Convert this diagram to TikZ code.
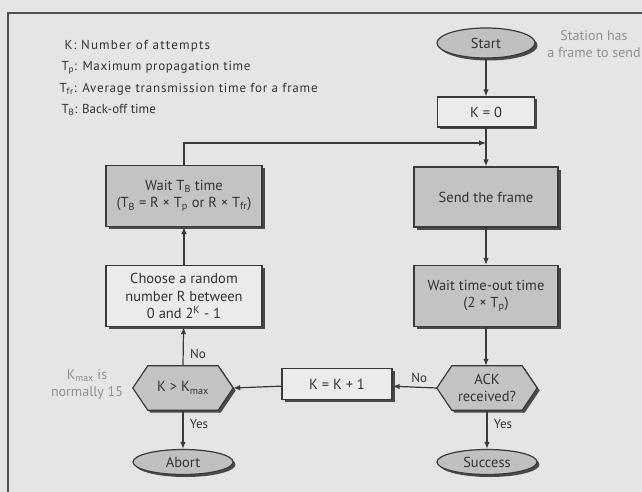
\documentclass[tikz,border=0pt]{standalone}
\usepackage{fontspec}
\setmainfont{PT Sans}
\usetikzlibrary{arrows.meta,shadows,calc,backgrounds,shapes.geometric}
\definecolor{bgc}{HTML}{E5E5E3}
\definecolor{linec}{HTML}{3A3A3A}
\definecolor{darkfill}{HTML}{C3C3C1}
\definecolor{lightfill}{HTML}{EBEBE9}
\definecolor{ovalfill}{HTML}{C0C0BE}
\definecolor{shadowc}{HTML}{4A4A4A}
\definecolor{txt}{HTML}{333333}
\definecolor{notec}{HTML}{909090}
\definecolor{framec}{HTML}{505050}

% outline of a hexagonal decision box around node #1, moved by #2
\newcommand\hexpath[2]{($(#1.west)+#2$) -- ($(#1.north west)+(15,0)+#2$) -- ($(#1.north east)+(-15,0)+#2$) -- ($(#1.east)+#2$) -- ($(#1.south east)+(-15,0)+#2$) -- ($(#1.south west)+(15,0)+#2$) -- cycle}

\begin{document}
\begin{tikzpicture}[x=1pt,y=-1pt,
  every node/.style={text=txt, font=\fontsize{14.5}{17.5}\selectfont},
  shade/.style={drop shadow={shadow xshift=2.5pt, shadow yshift=-2.5pt, fill=shadowc, opacity=1}},
  procbox/.style={draw=linec, line width=1.2pt, fill=lightfill, shade, align=center, inner sep=0pt},
  darkbox/.style={procbox, fill=darkfill},
  oval/.style={ellipse, draw=linec, line width=1.2pt, fill=ovalfill, shade, inner sep=0pt},
  hexbox/.style={rectangle, minimum width=100pt, minimum height=44pt, align=center, inner sep=0pt},
  flow/.style={draw=linec, line width=1.2pt, -{Latex[length=7pt,width=5.5pt]}},
  legend/.style={anchor=west, font=\fontsize{13}{15}\selectfont, text=txt},
  note/.style={align=center, text=notec, font=\fontsize{14}{17}\selectfont},
  lbl/.style={font=\fontsize{13}{15}\selectfont}]

\useasboundingbox (0,0) rectangle (642,492);
\begin{scope}[on background layer]
  \fill[bgc] (0,0) rectangle (642,492);
\end{scope}

% outer frame
\draw[framec, line width=1.6pt] (8,492) -- (8,13) -- (642,13);

% legend
\node[legend] (l1) at (61,46) {\addfontfeature{LetterSpace=9}K: Number of attempts};
\node[legend] (l2) at (58,68) {\addfontfeature{LetterSpace=5}T\textsubscript{p}: Maximum propagation time};
\node[legend] (l3) at (56,89) {\addfontfeature{LetterSpace=6}T\textsubscript{fr}: Average transmission time for a frame};
\node[legend] (l4) at (58,110) {T\textsubscript{B}: Back-off time};

% right column
\node[oval, minimum width=98pt, minimum height=30pt] (start) at (486,43) {Start};
\node[note] (station) at (594,44) {Station has\\a frame to send};
\node[procbox, minimum width=97pt, minimum height=30pt] (k0) at (486,112) {K = 0};
\coordinate (join) at (486,143);
\node[darkbox, minimum width=144pt, minimum height=60pt] (send) at (486,197) {Send the frame};
\node[darkbox, minimum width=144pt, minimum height=61pt] (tout) at (486,296) {Wait time-out time\\(2 × T\textsubscript{p})};
\node[hexbox] (ack) at (487,388) {};
\node[oval, minimum width=100pt, minimum height=25pt] (succ) at (487,462) {Success};

% middle
\node[procbox, minimum width=110pt, minimum height=31pt] (inc) at (337,384) {K = K + 1};

% left column
\node[darkbox, minimum width=156pt, minimum height=61pt] (waitb) at (184,196) {Wait T\textsubscript{B} time\\(T\textsubscript{B} = R × T\textsubscript{p} or R × T\textsubscript{fr})};
\node[procbox, minimum width=156pt, minimum height=61pt] (choose) at (184,296) {Choose a random\\number R between\\0 and 2\textsuperscript{K} - 1};
\node[hexbox] (kmax) at (183,388) {};
\node[oval, minimum width=100pt, minimum height=25pt] (abort) at (183,462) {Abort};
\node[note] (kmaxnote) at (87,384) {K\textsubscript{max} is\\normally 15};

% decision hexagons, drawn beneath their labels
\begin{scope}[on background layer]
  \foreach \h in {ack,kmax}{
    \fill[shadowc] \hexpath{\h}{(2.5,2.5)};
    \filldraw[fill=darkfill, draw=linec, line width=1.2pt] \hexpath{\h}{(0,0)};
  }
\end{scope}
\node[align=center] at (ack) {ACK\\received?};
\node at (kmax) {K > K\textsubscript{max}};

% connectors
\draw[flow] (start) -- (k0);
\draw[flow] (k0) -- (send);
\draw[flow] (send) -- (tout);
\draw[flow] (tout.south) -- (tout.south |- ack.north);
\draw[flow] (ack.south) -- node[lbl, right, pos=0.35, xshift=3pt] {Yes} (succ);
\draw[flow] (ack.west) -- node[lbl, above, pos=0.4, yshift=1pt] {No} (inc);
\draw[flow] (inc) -- (kmax.east);
\draw[flow] (kmax.south) -- node[lbl, right, pos=0.35, xshift=3pt] {Yes} (abort);
\draw[flow] (kmax.north) -- node[lbl, right, pos=0.3, xshift=3pt] {No} (choose);
\draw[flow] (choose) -- (waitb);
\draw[flow] (waitb.north) -- (waitb.north |- join) -- (join);
\end{tikzpicture}
\end{document}
